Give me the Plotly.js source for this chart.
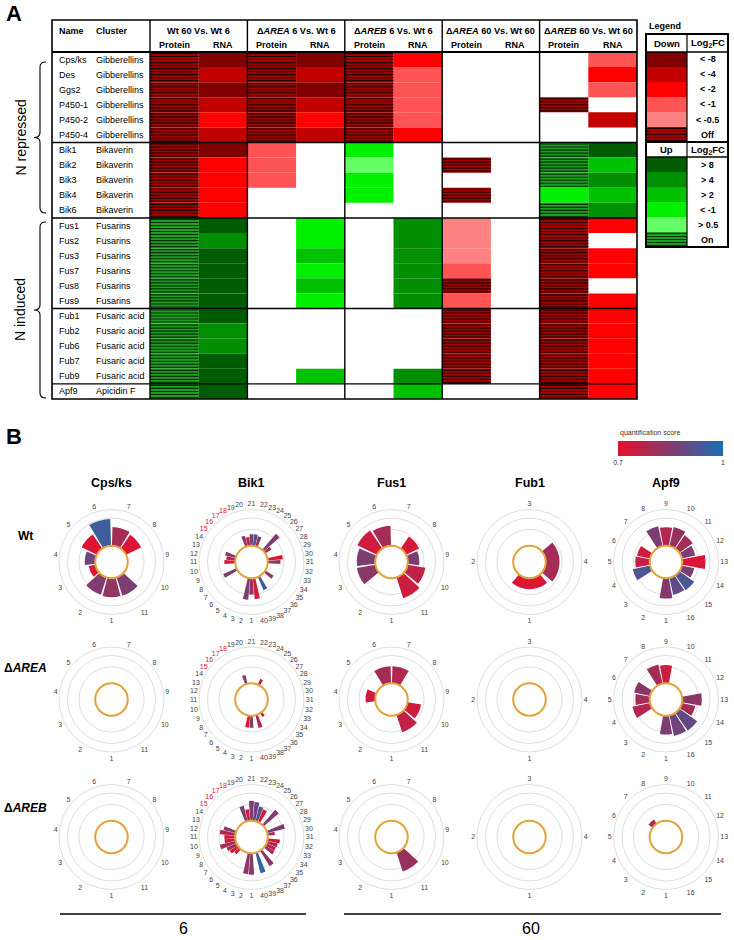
<!DOCTYPE html>
<html><head><meta charset="utf-8">
<script src="https://cdn.plot.ly/plotly-3.0.1.min.js"></script>
<style>html,body{margin:0;padding:0;background:#fff}#chart{width:734px;height:940px}</style>
</head><body><div id="chart"></div>
<script>
// ================= DATA : panel A =================
const genes = ['Cps/ks','Des','Ggs2','P450-1','P450-2','P450-4','Bik1','Bik2','Bik3','Bik4','Bik6','Fus1','Fus2','Fus3','Fus7','Fus8','Fus9','Fub1','Fub2','Fub6','Fub7','Fub9','Apf9'];
const clusters = ['Gibberellins','Gibberellins','Gibberellins','Gibberellins','Gibberellins','Gibberellins','Bikaverin','Bikaverin','Bikaverin','Bikaverin','Bikaverin','Fusarins','Fusarins','Fusarins','Fusarins','Fusarins','Fusarins','Fusaric acid','Fusaric acid','Fusaric acid','Fusaric acid','Fusaric acid','Apicidin F'];
const comparisons = ['Wt 60 Vs. Wt 6','Δ<i>AREA</i> 6 Vs. Wt 6','Δ<i>AREB</i> 6 Vs. Wt 6','Δ<i>AREA</i> 60 Vs. Wt 60','Δ<i>AREB</i> 60 Vs. Wt 60'];
const dataTypes = ['Protein','RNA'];
// codes: d8,d4,d2,d1,d05 (down), off ; u8,u4,u2,u1,u05 (up), on ; '' = no change
const wt60_protein  = ['off','off','off','off','off','off','off','off','off','off','off','on','on','on','on','on','on','on','on','on','on','on','on'];
const wt60_rna      = ['d8','d4','d8','d4','d2','d4','d8','d2','d2','d2','d2','u8','u4','u8','u8','u8','u8','u8','u4','u4','u8','u8','u8'];
const area6_protein = ['off','off','off','off','off','off','d1','d1','d1','','','','','','','','','','','','','',''];
const area6_rna     = ['d8','d4','d8','d4','d2','d4','','','','','','u1','u1','u2','u1','u2','u1','','','','','u2',''];
const areb6_protein = ['off','off','off','off','off','off','u1','u05','u1','u1','','','','','','','','','','','','',''];
const areb6_rna     = ['d2','d1','d1','d1','d1','d2','','','','','','u4','u4','u4','u4','u4','u4','','','','','u4','u2'];
const area60_protein= ['','','','','','','','off','','off','','d05','d05','d05','d1','off','d1','off','off','off','off','off',''];
const area60_rna    = ['','','','','','','','','','','','','','','','','','','','','','',''];
const areb60_protein= ['','','','off','','','on','on','on','u1','on','off','off','off','off','off','off','off','off','off','off','off','off'];
const areb60_rna    = ['d1','d2','d1','','d4','','u8','u2','u4','u2','u4','d2','','d2','d2','','d2','d2','d2','d2','d2','d2','d2'];
const legendDownCodes = ['d8','d4','d2','d1','d05','off'];
const legendDownLabels = ['< -8','< -4','< -2','< -1','< -0.5','Off'];
const legendUpCodes = ['u8','u4','u2','u1','u05','on'];
const legendUpLabels = ['> 8','> 4','> 2','< -1','> 0.5','On'];

// ================= DATA : panel B =================
const geneTitles = ['Cps/ks','Bik1','Fus1','Fub1','Apf9'];
const strains = ['Wt','Δ<i>AREA</i>','Δ<i>AREB</i>'];
const timeLabels = ['6','60'];
const cpsTheta = ['1','2','3','4','5','6','7','8','9','10','11'];
const cpsWt_r    = [0.52,0.50,0.19,0.29,0.47,0.74,0.52,0.46,0,0,0.53];
const cpsWt_s    = [0.83,0.85,0.72,0.88,0.72,0.95,0.80,0.72,0.7,0.7,0.86];
const cpsAREA_r  = [0,0,0,0,0,0,0,0,0,0,0];
const cpsAREA_s  = [0.7,0.7,0.7,0.7,0.7,0.7,0.7,0.7,0.7,0.7,0.7];
const cpsAREB_r  = [0,0,0,0,0,0,0,0,0,0,0];
const cpsAREB_s  = [0.7,0.7,0.7,0.7,0.7,0.7,0.7,0.7,0.7,0.7,0.7];
const bikTheta = ['1','2','3','4','5','6','7','8','9','10','11','12','13','14','15','16','17','18','19','20','21','22','23','24','25','26','27','28','29','30','31','32','33','34','35','36','37','38','39','40'];
const bikHighlighted = ['15','16','17','18'];
const bikWt_r   = [0.45,0.60,0,0,0,0,0,0.40,0,0,0.30,0.25,0.30,0,0,0,0,0,0.30,0.24,0.32,0.32,0.28,0,0,0.58,0.20,0,0,0.42,0.35,0,0,0,0.27,0,0,0.40,0,0.58];
const bikWt_s   = [0.82,0.86,0.7,0.7,0.7,0.7,0.7,0.86,0.7,0.7,0.72,0.78,0.85,0.7,0.7,0.7,0.7,0.7,0.86,0.72,0.88,0.92,0.84,0.7,0.7,0.85,0.80,0.7,0.7,0.72,0.82,0.7,0.7,0.7,0.84,0.7,0.7,0.95,0.7,0.74];
const bikAREA_r = [0.33,0.33,0,0,0,0,0,0,0,0,0,0,0,0,0,0,0,0,0.25,0,0,0,0,0.17,0,0,0,0,0,0,0,0,0,0,0,0,0.12,0,0.36,0];
const bikAREA_s = [0.85,0.72,0.7,0.7,0.7,0.7,0.7,0.7,0.7,0.7,0.7,0.7,0.7,0.7,0.7,0.7,0.7,0.7,0.86,0.7,0.7,0.7,0.7,0.78,0.7,0.7,0.7,0.7,0.7,0.7,0.7,0.7,0.7,0.7,0.7,0.7,0.72,0.7,0.78,0.7];
const bikAREB_r = [0.59,0.58,0,0,0,0.18,0.26,0.30,0.45,0.30,0.30,0.43,0.35,0,0,0,0,0,0.44,0.32,0.55,0.52,0.42,0.38,0,0.55,0,0,0.50,0.20,0,0.34,0.30,0.28,0.30,0,0.50,0,0.58,0];
const bikAREB_s = [0.85,0.83,0.7,0.7,0.7,0.74,0.72,0.80,0.80,0.76,0.72,0.78,0.84,0.7,0.7,0.7,0.7,0.7,0.88,0.72,0.86,0.88,0.92,0.72,0.7,0.85,0.7,0.7,0.86,0.80,0.7,0.72,0.78,0.76,0.80,0.7,0.84,0.7,0.97,0.7];
const fusTheta = ['1','2','3','4','5','6','7','8','9','10','11'];
const fusWt_r   = [0,0,0.52,0.51,0.60,0.55,0,0.40,0.32,0.50,0.60];
const fusWt_s   = [0.7,0.7,0.84,0.86,0.74,0.80,0.7,0.73,0.86,0.76,0.74];
const fusAREA_r = [0,0,0,0.27,0,0.47,0.47,0,0,0.38,0.50];
const fusAREA_s = [0.7,0.7,0.7,0.74,0.7,0.80,0.78,0.7,0.7,0.74,0.76];
const fusAREB_r = [0,0,0,0,0,0,0,0,0,0,0.55];
const fusAREB_s = [0.7,0.7,0.7,0.7,0.7,0.7,0.7,0.7,0.7,0.7,0.82];
const fubTheta = ['1','2','3','4'];
const fubWt_r   = [0.30,0,0,0.38];
const fubWt_s   = [0.72,0.7,0.7,0.80];
const fubAREA_r = [0,0,0,0];
const fubAREA_s = [0.7,0.7,0.7,0.7];
const fubAREB_r = [0,0,0,0];
const fubAREB_s = [0.7,0.7,0.7,0.7];
const apfTheta = ['1','2','3','4','5','6','7','8','9','10','11','12','13','14','15','16'];
const apfWt_r   = [0.56,0,0,0.49,0.40,0.37,0,0.56,0.51,0.54,0.45,0.38,0.64,0.35,0.50,0.48];
const apfWt_s   = [0.85,0.7,0.7,0.93,0.75,0.74,0.7,0.86,0.78,0.82,0.80,0.86,0.72,0.86,0.93,0.90];
const apfAREA_r = [0.52,0,0,0.50,0.40,0.45,0,0.54,0.50,0,0,0,0.54,0.38,0.60,0.58];
const apfAREA_s = [0.86,0.7,0.7,0.78,0.80,0.84,0.7,0.80,0.74,0.7,0.7,0.7,0.84,0.80,0.90,0.88];
const apfAREB_r = [0,0,0,0,0,0,0.14,0,0,0,0,0,0,0,0,0];
const apfAREB_s = [0.7,0.7,0.7,0.7,0.7,0.7,0.80,0.7,0.7,0.7,0.7,0.7,0.7,0.7,0.7,0.7];
const scoreMin = 0.7, scoreMax = 1;
const scoreTitle = 'quantification score';

// ================= BUILD =================
const W = 734, H = 940;
const px = x => x / W, py = y => 1 - y / H;
const FONT = 'Liberation Sans, Arial, sans-serif';
const colorMap = {d8:'#800000', d4:'#c20000', d2:'#ff0000', d1:'#ff5454', d05:'#ff8282', off:'#a30000',
                  u8:'#005c00', u4:'#008f00', u2:'#00c200', u1:'#00f000', u05:'#66ff66', on:'#1e9e1e'};
const stripeColor = {off:'#260000', on:'#06300a'};
const STRIPES = 5, STRIPE_H = 0.075;   // hatch style: stripes per row, stripe thickness (row units)

const traces = [];
const shapes = [];
const annotations = [];
const ann = (text, x, y, o = {}) => annotations.push(Object.assign({
  text, x, y, xref:'paper', yref:'paper', showarrow:false, xanchor:'center', yanchor:'middle',
  font:{family:FONT, size:9, color:'#000'}}, o));

// build cell bars + hatch-stripe bars for a grid of code columns
function cellTraces(columns, xa, ya) {
  const cx = [], cb = [], ch = [], cc = [];
  const sx = [], sb = [], sh = [], sc = [];
  columns.forEach((col, c) => col.forEach((code, r) => {
    if (!code) return;
    cx.push(c); cb.push(r - 0.5); ch.push(1); cc.push(colorMap[code]);
    if (stripeColor[code]) for (let k = 0; k < STRIPES; k++) {
      sx.push(c); sb.push(r - 0.5 + (k + 0.5) / STRIPES - STRIPE_H / 2); sh.push(STRIPE_H); sc.push(stripeColor[code]);
    }
  }));
  traces.push({type:'bar', x:cx, y:ch, base:cb, width:1, xaxis:xa, yaxis:ya,
    marker:{color:cc, line:{width:0}}, hoverinfo:'skip', showlegend:false});
  traces.push({type:'bar', x:sx, y:sh, base:sb, width:1, xaxis:xa, yaxis:ya,
    marker:{color:sc, line:{width:0}}, hoverinfo:'skip', showlegend:false});
}

// ---- table cells
const tableCols = [wt60_protein, wt60_rna, area6_protein, area6_rna, areb6_protein, areb6_rna, area60_protein, area60_rna, areb60_protein, areb60_rna];
cellTraces(tableCols, 'x', 'y');
// ---- legend swatches (one column, row 6 = "Up" header)
cellTraces([legendDownCodes.concat([''], legendUpCodes)], 'x2', 'y2');

// ---- table geometry (px)
const T = {x0:52, x1:637, y0:20, hy:52, y1:399, dx:150};
const colW = (T.x1 - T.dx) / 10;
const rowH = (T.y1 - T.hy) / genes.length;
const line = (x0,y0,x1,y1,w=1.4,c='#000') => shapes.push({type:'line', xref:'paper', yref:'paper', x0:px(x0), y0:py(y0), x1:px(x1), y1:py(y1), line:{color:c, width:w}});
shapes.push({type:'rect', xref:'paper', yref:'paper', x0:px(T.x0), x1:px(T.x1), y0:py(T.y1), y1:py(T.y0), line:{color:'#000', width:1.6}});
line(T.x0, T.hy, T.x1, T.hy, 1.8);
let prev = clusters[0];
clusters.forEach((cl, r) => { if (cl !== prev) { const y = T.hy + r*rowH; line(T.x0, y, T.x1, y, 1.4); prev = cl; } });
for (let g = 0; g < 5; g++) { const x = T.dx + g*2*colW; line(x, T.y0, x, T.y1, 1.4); }
ann('<b>Name</b>', px(57), py(31), {xanchor:'left'});
ann('<b>Cluster</b>', px(94), py(31), {xanchor:'left'});
comparisons.forEach((c, g) => {
  ann('<b>' + c + '</b>', px(T.dx + (g*2+1)*colW), py(31), {font:{family:FONT, size:9.2, color:'#000'}});
  dataTypes.forEach((d, k) => ann('<b>' + d + '</b>', px(T.dx + (g*2+k+0.5)*colW), py(45)));
});
genes.forEach((g, r) => {
  const y = py(T.hy + (r+0.5)*rowH);
  ann(g, px(57), y, {xanchor:'left'});
  ann(clusters[r], px(94), y, {xanchor:'left'});
});
const P = (x,y) => `${px(x)},${py(y)}`;
const brace = (t, b) => { const m = (t+b)/2;
  shapes.push({type:'path', xref:'paper', yref:'paper', line:{color:'#000', width:1.1},
    path:`M${P(46,t)} Q${P(40,t)} ${P(40,t+5)} L${P(40,m-5)} Q${P(40,m)} ${P(34,m)} Q${P(40,m)} ${P(40,m+5)} L${P(40,b-5)} Q${P(40,b)} ${P(46,b)}`}); };
brace(62, 213); brace(222, 398);
ann('N repressed', px(20), py(137.5), {textangle:-90, font:{family:FONT, size:14, color:'#000'}});
ann('N induced', px(20), py(310), {textangle:-90, font:{family:FONT, size:14, color:'#000'}});
ann('<b>A</b>', px(4), py(13), {xanchor:'left', font:{family:FONT, size:22, color:'#000'}});
ann('<b>B</b>', px(4), py(436), {xanchor:'left', font:{family:FONT, size:22, color:'#000'}});

// ---- legend box
const L = {x0:646, xm:687, x1:728, y0:34, hy:52, y1:247};
const lRow = (L.y1 - L.hy) / 13;
ann('<b>Legend</b>', px(647), py(26), {xanchor:'left'});
shapes.push({type:'rect', xref:'paper', yref:'paper', x0:px(L.x0), x1:px(L.x1), y0:py(L.y1), y1:py(L.y0), line:{color:'#000', width:2}});
line(L.xm, L.y0, L.xm, L.y1, 1.2);
line(L.x0, L.hy, L.x1, L.hy, 1.4);
line(L.x0, L.hy + 6*lRow, L.x1, L.hy + 6*lRow, 2);
line(L.x0, L.hy + 7*lRow, L.x1, L.hy + 7*lRow, 1.4);
const lcx = (L.x0 + L.xm)/2, lvx = (L.xm + L.x1)/2;
ann('<b>Down</b>', px(lcx), py((L.y0+L.hy)/2), {font:{family:FONT, size:9.5, color:'#000'}});
ann('<b>Log<sub>2</sub>FC</b>', px(lvx), py((L.y0+L.hy)/2), {font:{family:FONT, size:9.5, color:'#000'}});
ann('<b>Up</b>', px(lcx), py(L.hy + 6.5*lRow), {font:{family:FONT, size:9.5, color:'#000'}});
ann('<b>Log<sub>2</sub>FC</b>', px(lvx), py(L.hy + 6.5*lRow), {font:{family:FONT, size:9.5, color:'#000'}});
legendDownLabels.concat([null], legendUpLabels).forEach((t, i) => {
  if (t === null) return;
  ann('<b>' + t + '</b>', px(lvx), py(L.hy + (i+0.5)*lRow));
});

// ---- panel B polars
const colorscale = [[0,'#e8112d'],[0.5,'#833a6c'],[1,'#1a6eb4']];
const polarData = [
  {theta:cpsTheta, r:[cpsWt_r, cpsAREA_r, cpsAREB_r], s:[cpsWt_s, cpsAREA_s, cpsAREB_s]},
  {theta:bikTheta, r:[bikWt_r, bikAREA_r, bikAREB_r], s:[bikWt_s, bikAREA_s, bikAREB_s]},
  {theta:fusTheta, r:[fusWt_r, fusAREA_r, fusAREB_r], s:[fusWt_s, fusAREA_s, fusAREB_s]},
  {theta:fubTheta, r:[fubWt_r, fubAREA_r, fubAREB_r], s:[fubWt_s, fubAREA_s, fubAREB_s]},
  {theta:apfTheta, r:[apfWt_r, apfAREA_r, apfAREB_r], s:[apfWt_s, apfAREA_s, apfAREB_s]},
];
const colCenters = [111.5, 251.5, 391.5, 529.5, 666];
const rowCenters = [562, 699.5, 837];
const R = 52.5, HOLE = 0.31;
const layout = {
  width:W, height:H, margin:{l:0,r:0,t:0,b:0}, paper_bgcolor:'#fff', plot_bgcolor:'rgba(0,0,0,0)',
  font:{family:FONT}, showlegend:false, barmode:'overlay',
  xaxis:{domain:[px(T.dx), px(T.x1)], range:[-0.5, 9.5], visible:false, fixedrange:true, anchor:'y'},
  yaxis:{domain:[py(T.y1), py(T.hy)], range:[genes.length-0.5, -0.5], visible:false, fixedrange:true, anchor:'x'},
  xaxis2:{domain:[px(L.x0), px(L.xm)], range:[-0.5, 0.5], visible:false, fixedrange:true, anchor:'y2'},
  yaxis2:{domain:[py(L.y1), py(L.hy)], range:[12.5, -0.5], visible:false, fixedrange:true, anchor:'x2'},
};
let idx = 0;
polarData.forEach((g, c) => {
  const thetaDisp = g.theta.map(t => (c === 1 && bikHighlighted.includes(t)) ? `<span style="color:#e8112d">${t}</span>` : t);
  ann('<b>' + geneTitles[c] + '</b>', px(colCenters[c]), py(483), {font:{family:FONT, size:12.5, color:'#000'}});
  rowCenters.forEach((cy, s) => {
    idx++;
    const key = idx === 1 ? 'polar' : 'polar' + idx;
    const cxp = colCenters[c];
    layout[key] = {
      domain:{x:[px(cxp-R), px(cxp+R)], y:[py(cy+R), py(cy-R)]},
      hole:HOLE, bgcolor:'rgba(0,0,0,0)',
      radialaxis:{range:[0,1], tickvals:[0.45,0.765], showticklabels:false, ticks:'', showline:false, gridcolor:'#d4d4d4', gridwidth:0.8},
      angularaxis:{type:'category', categoryorder:'array', categoryarray:thetaDisp, direction:'clockwise', rotation:270,
        showgrid:false, showline:true, linecolor:'#d4d4d4', linewidth:0.8, ticks:'',
        tickfont:{family:FONT, size:7, color:'#444'}}
    };
    const tr = {type:'barpolar', subplot:key, r:g.r[s], theta:thetaDisp,
      marker:{color:g.s[s], colorscale, cmin:scoreMin, cmax:scoreMax, line:{width:0}},
      hoverinfo:'skip', showlegend:false};
    if (idx === 1) {
      tr.marker.showscale = true;
      tr.marker.colorbar = {orientation:'h', x:px(670.5), xanchor:'center', y:py(441), yanchor:'top',
        len:105, lenmode:'pixels', thickness:15, outlinewidth:0, ticks:'', ypad:0, xpad:0,
        tickvals:[scoreMin, scoreMax], ticktext:['0.7','1'], tickfont:{family:FONT, size:7, color:'#333'}};
    }
    traces.push(tr);
    const rh = HOLE * R;
    shapes.push({type:'circle', xref:'paper', yref:'paper', x0:px(cxp-rh), x1:px(cxp+rh), y0:py(cy+rh), y1:py(cy-rh),
      line:{color:'#e3a23b', width:2}, layer:'above'});
  });
});
ann(scoreTitle, px(618), py(433), {xanchor:'left', font:{family:FONT, size:7, color:'#333'}});
strains.forEach((s, k) => ann('<b>' + s + '</b>', px(k === 0 ? 16 : 2), py([536, 668, 808][k]), {xanchor:'left', font:{family:FONT, size:12, color:'#000'}}));
line(60, 914, 306, 914, 1.3); line(344, 914, 721, 914, 1.3);
ann(timeLabels[0], px(183), py(928), {font:{family:FONT, size:16, color:'#000'}});
ann(timeLabels[1], px(531), py(928), {font:{family:FONT, size:16, color:'#000'}});

layout.shapes = shapes;
layout.annotations = annotations;
Plotly.newPlot('chart', traces, layout, {staticPlot:true, displayModeBar:false});
</script></body></html>
